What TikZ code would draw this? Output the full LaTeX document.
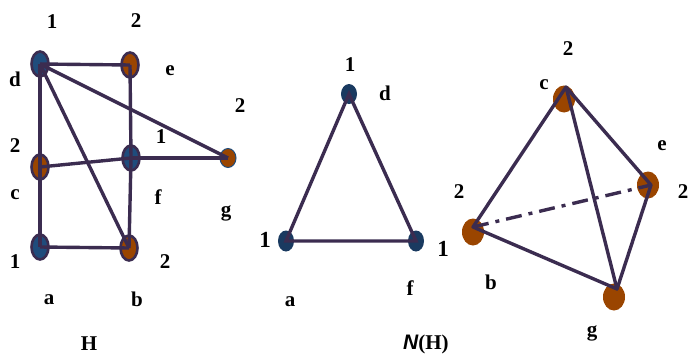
\documentclass[tikz,border=0pt]{standalone}
\usepackage{fontspec}
\setmainfont{Liberation Serif}
\newfontfamily\arialf{Liberation Sans}
\usetikzlibrary{shapes.geometric}
\definecolor{edgec}{HTML}{3B2C50}
\definecolor{nodeblue}{HTML}{1F4C7C}
\definecolor{nodeblue2}{HTML}{1A3A60}
\definecolor{nodebrown}{HTML}{9A4500}
\begin{document}
\begin{tikzpicture}[x=1pt,y=-1pt,
  vtx/.style={ellipse, draw=edgec, line width=2.6pt, inner sep=0pt, minimum width=17pt, minimum height=25pt},
  blu/.style={vtx, fill=nodeblue},
  brn/.style={vtx, fill=nodebrown},
  plain/.style={ellipse, inner sep=0pt, draw=none},
  lbl/.style={font=\fontsize{21}{23}\selectfont\bfseries, inner sep=0pt},
  edge/.style={draw=edgec, line width=3.4pt},
  dashdot/.style={edge, dash pattern=on 16pt off 7pt on 4pt off 7pt}]
\useasboundingbox (0,0) rectangle (695,356);
% ---------- graph H ----------
\node[blu] (d) at (40,64) {};
\node[brn] (e) at (130,65) {};
\node[brn] (c) at (40,167) {};
\node[blu] (f) at (131,158) {};
\node[plain, fill=nodebrown, draw=nodeblue, line width=1pt, minimum width=16pt, minimum height=19pt] (g) at (228,158) {};
\node[blu] (a) at (40,247) {};
\node[brn] (b) at (129,248) {};
\foreach \u/\v in {d/e,d/c,c/a,a/b,b/f,f/e,d/b,d/g,c/f,f/g}
  \draw[edge] (\u.center) -- (\v.center);
\node[lbl] (l1) at (52,22) {1};
\node[lbl] (l2) at (136,21) {2};
\node[lbl] (ld) at (15,79) {d};
\node[lbl] (le) at (170,71) {e};
\node[lbl] (l3) at (240,106) {2};
\node[lbl] (l4) at (161,137) {1};
\node[lbl] (l5) at (15,146) {2};
\node[lbl] (lc) at (15,195) {c};
\node[lbl] (lf) at (158,197) {f};
\node[lbl] (lg) at (226,213) {g};
\node[lbl] (l6) at (15,262) {1};
\node[lbl] (l7) at (165,262) {2};
\node[lbl] (la) at (49,300) {a};
\node[lbl] (lb) at (137,299) {b};
\node[lbl] (lH) at (89,344) {H};
% ---------- N(H) ----------
\node[plain, fill=nodeblue2, minimum width=16pt, minimum height=20pt] (nd) at (349,94) {};
\node[plain, fill=nodeblue2, minimum width=16pt, minimum height=21pt] (na) at (286,241) {};
\node[plain, fill=nodeblue2, minimum width=16pt, minimum height=21pt] (nf) at (416,241) {};
\draw[edge] (nd.center) -- (na.center) -- (nf.center) -- cycle;
\node[lbl] (m1) at (350,65) {1};
\node[lbl] (md) at (385,93) {d};
\node[lbl, font=\fontsize{23}{25}\selectfont\bfseries] (m2) at (265,240) {1};
\node[lbl, font=\fontsize{23}{25}\selectfont\bfseries] (m3) at (443,249) {1};
\node[lbl] (mf) at (410,288) {f};
\node[lbl] (ma) at (290,302) {a};
\node[lbl, anchor=west] (mN) at (403,344) {{\arialf\bfseries\itshape N}(H)};
% ---------- right graph ----------
\node[plain, fill=nodebrown, minimum width=22pt, minimum height=27pt] (rc) at (564,99) {};
\node[plain, fill=nodebrown, minimum width=22pt, minimum height=27pt] (re) at (648,185) {};
\node[plain, fill=nodebrown, minimum width=22pt, minimum height=27pt] (rb) at (473,232) {};
\node[plain, fill=nodebrown, minimum width=22pt, minimum height=27pt] (rg) at (614,297) {};
\coordinate (pc) at (566,87);
\coordinate (pe) at (651,185);
\coordinate (pb) at (473,227);
\coordinate (pg) at (617,289);
\draw[dashdot] (pb) -- (pe);
\draw[edge, line join=round] (pb) -- (pc) -- (pe) -- (pg) -- cycle;
\draw[edge] (pc) -- (pg);
\node[lbl] (r1) at (568,49) {2};
\node[lbl] (rcl) at (544,85) {c};
\node[lbl] (rel) at (662,146) {e};
\node[lbl] (r2) at (683,192) {2};
\node[lbl] (r3) at (459,192) {2};
\node[lbl] (rbl) at (491,282) {b};
\node[lbl] (rgl) at (592,333) {g};
\end{tikzpicture}
\end{document}
